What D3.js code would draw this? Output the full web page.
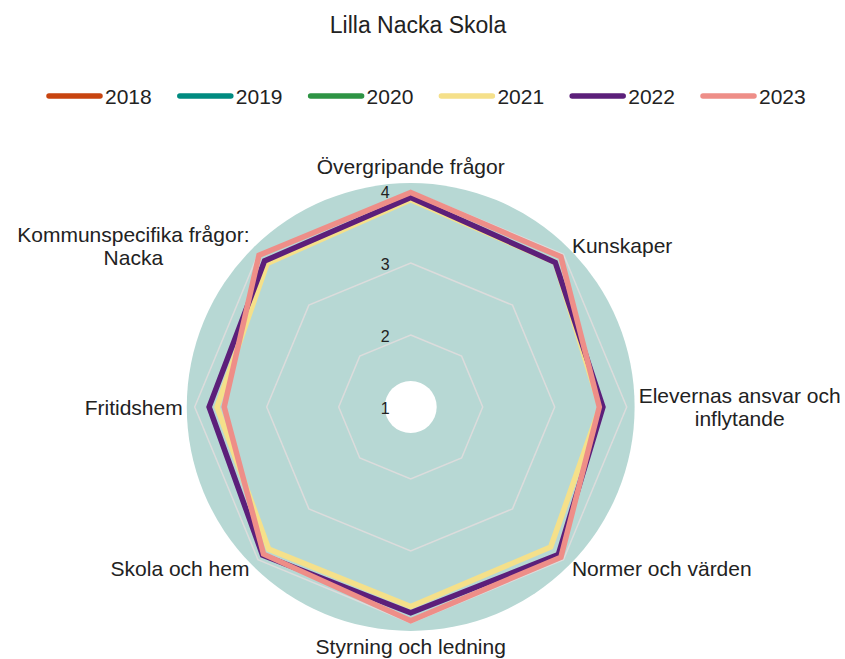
<!DOCTYPE html>
<html>
<head>
<meta charset="utf-8">
<script src="https://cdn.jsdelivr.net/npm/d3@7"></script>
<style>
  body { margin: 0; background: #fff; }
  text { font-family: "Liberation Sans", Arial, sans-serif; fill: #222; }
</style>
</head>
<body>
<svg id="chart" width="845" height="659"></svg>
<script>
// axis categories, clockwise from the top
var axes = [
   "Övergripande frågor",
   "Kunskaper",
   "Elevernas ansvar och\ninflytande",
   "Normer och värden",
   "Styrning och ledning",
   "Skola och hem",
   "Fritidshem",
   "Kommunspecifika frågor:\nNacka"
];
var years = ["2018", "2019", "2020", "2021", "2022", "2023"];
var colors = ["#c8440f", "#008b80", "#2e9444", "#f5e08a", "#5c1f7a", "#ee8e88"];
var radialTicks = [1, 2, 3, 4];

// no data for 2018-2020 at this school
var values2018 = [];
var values2019 = [];
var values2020 = [];
var values2021 = [3.88, 3.84, 3.63, 3.75, 3.77, 3.79, 3.69, 3.82];
var values2022 = [3.91, 3.84, 3.67, 3.90, 3.86, 3.91, 3.80, 3.87];
var values2023 = [3.98, 3.95, 3.62, 3.95, 3.97, 3.89, 3.59, 3.98];
var series = [values2018, values2019, values2020, values2021, values2022, values2023];

var cx = 410.7, cy = 407;

window.onload = function() {
   var svg = d3.select("#chart");

   svg.append("text")
      .attr("x", 418)
      .attr("y", 33)
      .attr("text-anchor", "middle")
      .style("font-size", "23px")
      .text("Lilla Nacka Skola");

   drawLegend(svg);
   drawRadar(svg);
};

function drawLegend(svg) {
   var x = d3.scalePoint().domain(years).range([47, 701]);
   var item = svg.append("g").selectAll("g")
      .data(years)
      .join("g")
      .attr("transform", function(d) { return "translate(" + x(d) + ",96)"; });

   item.append("line")
      .attr("x1", 2).attr("x2", 53)
      .attr("stroke", function(d, i) { return colors[i]; })
      .attr("stroke-width", 5.5)
      .attr("stroke-linecap", "round");

   item.append("text")
      .attr("x", 58)
      .attr("y", 7.5)
      .style("font-size", "21px")
      .text(function(d) { return d; });
}

function drawRadar(svg) {
   var r = d3.scaleLinear().domain([1, 4]).range([0, 216]);
   var angle = d3.scaleLinear().domain([0, axes.length]).range([0, 2 * Math.PI]);
   var g = svg.append("g").attr("transform", "translate(" + cx + "," + cy + ")");

   g.append("circle").attr("r", r(4.11)).attr("fill", "#b7d8d4");

   var radial = d3.lineRadial()
      .angle(function(d, i) { return angle(i); })
      .radius(function(d) { return r(d); })
      .curve(d3.curveLinearClosed);

   // grid octagons
   radialTicks.slice(1).forEach(function(t) {
      g.append("path")
         .attr("d", radial(axes.map(function() { return t; })))
         .attr("fill", "none")
         .attr("stroke", "#dcdcdc")
         .attr("stroke-width", 1.5);
   });

   g.append("circle").attr("r", 26).attr("fill", "#fff");

   series.forEach(function(vals, i) {
      if (!vals.length) return;
      g.append("path")
         .attr("d", radial(vals))
         .attr("fill", "none")
         .attr("stroke", colors[i])
         .attr("stroke-width", 5.5)
         .attr("stroke-linejoin", "miter");
   });

   // radial tick labels
   g.selectAll(".rtick")
      .data(radialTicks)
      .join("text")
      .attr("class", "rtick")
      .attr("x", -21)
      .attr("y", function(d) { return -r(d) + 1; })
      .attr("text-anchor", "end")
      .attr("dominant-baseline", "central")
      .style("font-size", "16px")
      .text(function(d) { return d; });

   // category labels
   var pad = 228, lineH = 23;
   axes.forEach(function(label, i) {
      var a = angle(i);
      var sx = Math.sin(a), cyy = Math.cos(a);
      var ax = pad * sx, ay = -pad * cyy;
      var lines = label.split("\n");
      var t = g.append("text").style("font-size", "21px").attr("text-anchor", "middle");
      lines.forEach(function(l) {
         t.append("tspan").text(l);
      });
      var w = 0;
      t.selectAll("tspan").each(function() { w = Math.max(w, this.getComputedTextLength()); });
      var h = lines.length * lineH;
      var bx = ax + (sx > 0.1 ? w / 2 : sx < -0.1 ? -w / 2 : 0);
      var by = ay + (cyy > 0.9 ? -h / 2 - 1 : cyy < -0.9 ? h / 2 : 0);
      t.selectAll("tspan")
         .attr("x", bx)
         .attr("y", function(d, j) { return by - h / 2 + lineH * (j + 0.5); })
         .attr("dominant-baseline", "central");
   });
}
</script>
</body>
</html>
